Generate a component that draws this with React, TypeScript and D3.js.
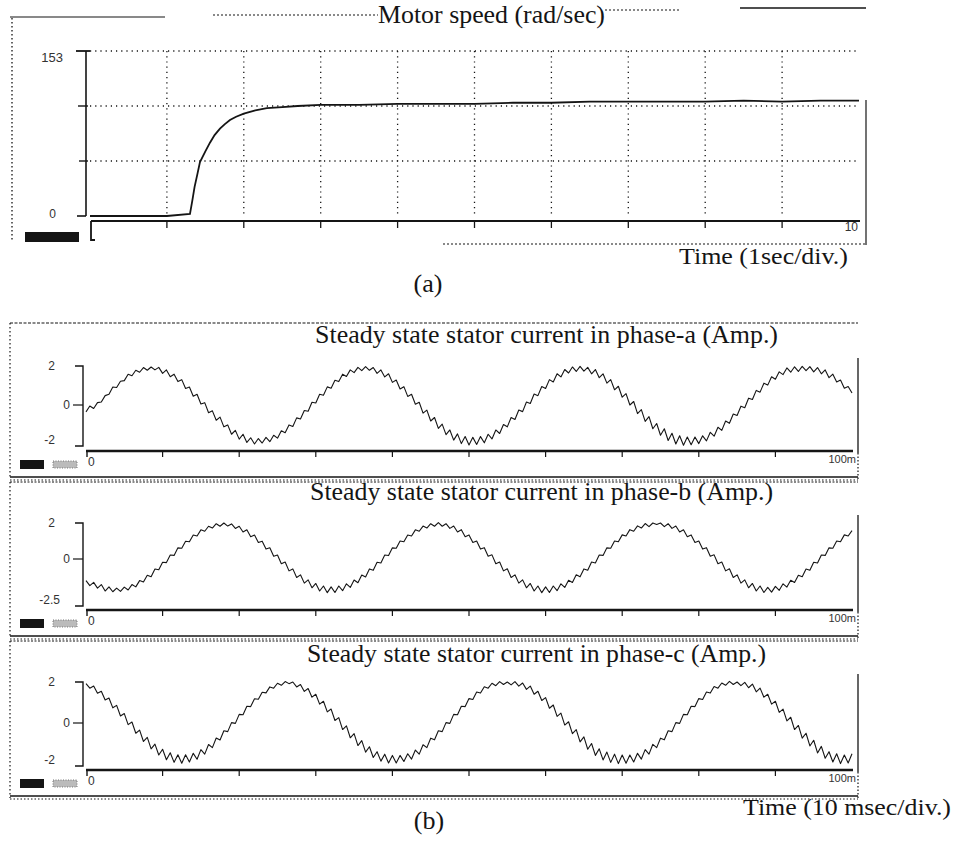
import React from 'react';
import * as d3 from 'd3';

const W = 956;
const H = 843;

// (a) motor speed, rad/sec against time in seconds
const speedTime = [0, 0.5, 1.0, 1.3, 1.33, 1.36, 1.4, 1.43, 1.5, 1.56, 1.62, 1.69, 1.75, 1.82, 1.9, 2.0, 2.15, 2.3, 2.5, 2.7, 3.0, 3.5, 4.0, 4.5, 5.0, 5.5, 6.0, 6.5, 7.0, 7.5, 8.0, 8.5, 9.0, 9.5, 10];
const speedValue = [0, 0, 0, 2, 14, 27, 40, 50, 60, 68, 75, 81, 85, 89, 92, 95, 98, 100, 101, 102, 103, 103, 104, 104, 104, 105, 105, 106, 106, 106, 106, 107, 106, 107, 107];
const speedGrid = [51, 102, 153];
const speedLabels = ['153', '0'];

// (b) steady state stator currents (Amp.), one reading every 0.5 ms over 100 ms
const SAMPLE_MS = 0.5;
const phaseA = [
  -0.35, -0.05, -0.18, 0.12, 0.15, 0.48, 0.55, 0.92, 0.90, 1.22,
  1.25, 1.58, 1.50, 1.78, 1.68, 1.92, 1.78, 1.95, 1.80, 1.93,
  1.62, 1.80, 1.45, 1.58, 1.20, 1.30, 0.85, 0.92, 0.45, 0.55,
  0.05, 0.12, -0.40, -0.30, -0.78, -0.62, -1.12, -1.02, -1.50, -1.30,
  -1.75, -1.50, -1.92, -1.68, -2.00, -1.72, -1.95, -1.66, -1.88, -1.55,
  -1.70, -1.32, -1.42, -1.02, -1.10, -0.66, -0.72, -0.28, -0.32, 0.14,
  0.10, 0.55, 0.50, 0.93, 0.86, 1.27, 1.20, 1.58, 1.46, 1.80,
  1.66, 1.93, 1.76, 1.97, 1.78, 1.92, 1.62, 1.80, 1.44, 1.60,
  1.16, 1.28, 0.82, 0.94, 0.44, 0.55, 0.04, 0.14, -0.42, -0.26,
  -0.82, -0.64, -1.20, -0.98, -1.52, -1.28, -1.80, -1.48, -1.98, -1.62,
  -2.05, -1.66, -2.02, -1.62, -1.94, -1.50, -1.74, -1.28, -1.46, -1.00,
  -1.12, -0.64, -0.74, -0.26, -0.34, 0.15, 0.08, 0.56, 0.48, 0.95,
  0.85, 1.30, 1.18, 1.60, 1.44, 1.82, 1.64, 1.95, 1.72, 1.98,
  1.74, 1.93, 1.60, 1.82, 1.40, 1.60, 1.12, 1.30, 0.78, 0.96,
  0.40, 0.58, 0.00, 0.18, -0.44, -0.24, -0.84, -0.60, -1.22, -0.95,
  -1.55, -1.22, -1.82, -1.45, -2.00, -1.58, -2.06, -1.64, -2.04, -1.64,
  -1.98, -1.58, -1.84, -1.40, -1.60, -1.14, -1.30, -0.82, -0.94, -0.46,
  -0.54, -0.06, -0.14, 0.35, 0.28, 0.75, 0.66, 1.12, 1.02, 1.45,
  1.32, 1.70, 1.56, 1.90, 1.68, 1.96, 1.72, 1.98, 1.76, 1.97,
  1.70, 1.92, 1.60, 1.80, 1.40, 1.58, 1.18, 1.28, 0.86, 0.95,
  0.62,
];
const phaseB = [
  -1.20, -1.48, -1.30, -1.62, -1.42, -1.78, -1.55, -1.82, -1.62, -1.80,
  -1.56, -1.72, -1.42, -1.55, -1.20, -1.28, -0.90, -0.98, -0.56, -0.60,
  -0.18, -0.20, 0.22, 0.20, 0.62, 0.60, 0.99, 0.96, 1.33, 1.28,
  1.62, 1.54, 1.82, 1.72, 1.96, 1.82, 2.00, 1.83, 1.95, 1.70,
  1.82, 1.50, 1.62, 1.24, 1.33, 0.92, 0.99, 0.55, 0.62, 0.15,
  0.22, -0.26, -0.17, -0.66, -0.55, -1.03, -0.88, -1.34, -1.16, -1.60,
  -1.36, -1.78, -1.50, -1.87, -1.55, -1.86, -1.50, -1.76, -1.38, -1.58,
  -1.17, -1.32, -0.89, -1.00, -0.55, -0.63, -0.18, -0.22, 0.22, 0.19,
  0.62, 0.60, 1.00, 0.96, 1.33, 1.28, 1.62, 1.54, 1.83, 1.72,
  1.96, 1.82, 2.02, 1.82, 1.96, 1.70, 1.83, 1.50, 1.63, 1.24,
  1.34, 0.92, 1.00, 0.55, 0.63, 0.15, 0.23, -0.26, -0.17, -0.66,
  -0.54, -1.03, -0.88, -1.34, -1.16, -1.60, -1.36, -1.78, -1.50, -1.87,
  -1.55, -1.86, -1.50, -1.76, -1.38, -1.58, -1.18, -1.30, -0.88, -0.99,
  -0.55, -0.62, -0.17, -0.22, 0.22, 0.20, 0.62, 0.60, 1.00, 0.96,
  1.34, 1.28, 1.63, 1.54, 1.84, 1.72, 1.97, 1.80, 2.00, 1.92,
  2.00, 1.80, 1.96, 1.70, 1.83, 1.50, 1.62, 1.24, 1.34, 0.92,
  1.00, 0.55, 0.63, 0.15, 0.23, -0.26, -0.17, -0.66, -0.54, -1.03,
  -0.88, -1.34, -1.16, -1.60, -1.36, -1.78, -1.50, -1.86, -1.58, -1.84,
  -1.52, -1.74, -1.38, -1.56, -1.18, -1.30, -0.90, -0.98, -0.56, -0.62,
  -0.18, -0.22, 0.22, 0.20, 0.62, 0.60, 1.00, 0.96, 1.34, 1.28,
  1.58,
];
const phaseC = [
  1.92, 1.70, 1.80, 1.45, 1.55, 1.12, 1.22, 0.74, 0.86, 0.34,
  0.46, -0.08, 0.05, -0.50, -0.35, -0.90, -0.70, -1.26, -1.03, -1.56,
  -1.28, -1.79, -1.45, -1.92, -1.55, -1.96, -1.55, -1.90, -1.48, -1.77,
  -1.30, -1.52, -1.05, -1.20, -0.73, -0.83, -0.38, -0.42, 0.02, -0.02,
  0.42, 0.40, 0.82, 0.80, 1.18, 1.16, 1.50, 1.47, 1.76, 1.70,
  1.94, 1.84, 2.02, 1.92, 2.00, 1.76, 1.88, 1.54, 1.68, 1.26,
  1.40, 0.92, 1.06, 0.54, 0.68, 0.12, 0.26, -0.32, -0.14, -0.72,
  -0.52, -1.10, -0.86, -1.42, -1.16, -1.68, -1.40, -1.86, -1.52, -1.95,
  -1.58, -1.95, -1.58, -1.88, -1.50, -1.76, -1.32, -1.52, -1.06, -1.20,
  -0.74, -0.82, -0.38, -0.42, 0.02, -0.02, 0.42, 0.40, 0.82, 0.80,
  1.19, 1.15, 1.51, 1.46, 1.77, 1.70, 1.94, 1.82, 2.02, 1.88,
  2.00, 1.86, 2.02, 1.80, 1.95, 1.64, 1.80, 1.40, 1.55, 1.10,
  1.24, 0.72, 0.88, 0.32, 0.48, -0.10, 0.06, -0.52, -0.32, -0.92,
  -0.68, -1.28, -1.00, -1.58, -1.26, -1.80, -1.42, -1.92, -1.52, -1.98,
  -1.56, -1.96, -1.56, -1.90, -1.48, -1.76, -1.30, -1.52, -1.04, -1.20,
  -0.74, -0.82, -0.38, -0.42, 0.02, -0.02, 0.42, 0.40, 0.82, 0.80,
  1.19, 1.15, 1.51, 1.46, 1.78, 1.70, 1.95, 1.84, 2.03, 1.88,
  2.00, 1.82, 1.98, 1.72, 1.90, 1.52, 1.70, 1.26, 1.40, 0.92,
  1.06, 0.52, 0.68, 0.10, 0.28, -0.32, -0.12, -0.74, -0.50, -1.12,
  -0.84, -1.46, -1.14, -1.72, -1.40, -1.90, -1.50, -1.98, -1.56, -1.95,
  -1.50,
];
const phaseTitles = [
  'Steady state stator current in phase-a (Amp.)',
  'Steady state stator current in phase-b (Amp.)',
  'Steady state stator current in phase-c (Amp.)',
];
const phaseTicks = [[2, 0, -2], [2, 0, -2.5], [2, 0, -2]];
const phaseTickLabels = [['2', '0', '-2'], ['2', '0', '-2.5'], ['2', '0', '-2']];
const timeTicksMs = [0, 10, 20, 30, 40, 50, 60, 70, 80, 90, 100];

const serif = '"Liberation Serif", "Times New Roman", serif';
const sans = '"Liberation Sans", Arial, sans-serif';
const ink = '#151515';

// pixel layout of the three stacked traces in (b)
const panes = [
  { top: 323, bottom: 479, yTop: 366, yBot: 444, axisY: 451, titleY: 343, titleX: 315, titleW: 463 },
  { top: 482, bottom: 638, yTop: 523, yBot: 604, axisY: 610, titleY: 500, titleX: 310, titleW: 463 },
  { top: 641, bottom: 798, yTop: 682, yBot: 764, axisY: 770, titleY: 662, titleX: 307, titleW: 459 },
];

function SpeedPanel() {
  const x = d3.scaleLinear().domain([0, 10]).range([90, 859]);
  const y = d3.scaleLinear().domain([0, 153]).range([216, 51]);
  const line = d3.line<number>()
    .x((_, i) => x(speedTime[i]))
    .y((d) => y(d));
  const divs = d3.range(1, 10);

  return (
    <g>
      {/* scanned frame */}
      <line x1={10} y1={17} x2={165} y2={17} stroke={ink} strokeWidth={1.2} />
      <line x1={213} y1={15} x2={378} y2={15} stroke={ink} strokeWidth={1.2} strokeDasharray="2 2" />
      <line x1={605} y1={10} x2={680} y2={10} stroke={ink} strokeWidth={1.2} strokeDasharray="2 2" />
      <line x1={740} y1={8} x2={866} y2={8} stroke={ink} strokeWidth={1.4} />
      <line x1={12} y1={18} x2={12} y2={240} stroke={ink} strokeWidth={1.3} strokeDasharray="1.5 2.5" />
      <line x1={866} y1={100} x2={866} y2={245} stroke={ink} strokeWidth={1.2} />
      <line x1={443} y1={244} x2={866} y2={244} stroke={ink} strokeWidth={1.2} strokeDasharray="2 2" />

      {/* grid */}
      {divs.map((d) => (
        <line key={'v' + d} x1={x(d)} x2={x(d)} y1={y(153)} y2={y(0)} stroke={ink} strokeWidth={1.3} strokeDasharray="1.2 4" />
      ))}
      {speedGrid.map((g) => (
        <line key={'h' + g} x1={x(0)} x2={x(10)} y1={y(g)} y2={y(g)} stroke={ink} strokeWidth={1.3} strokeDasharray="1.2 4" />
      ))}

      {/* y axis */}
      <line x1={86} x2={86} y1={y(153)} y2={y(0)} stroke={ink} strokeWidth={1.6} />
      <line x1={76} x2={90} y1={y(153)} y2={y(153)} stroke={ink} strokeWidth={1.8} />
      <line x1={78} x2={88} y1={y(102)} y2={y(102)} stroke={ink} strokeWidth={1.4} />
      <line x1={79} x2={88} y1={y(51)} y2={y(51)} stroke={ink} strokeWidth={1.4} />
      <line x1={77} x2={86} y1={y(0)} y2={y(0)} stroke={ink} strokeWidth={1.6} />
      <text x={63} y={y(153) + 11} textAnchor="end" fontFamily={sans} fontSize={13} fill="#333">{speedLabels[0]}</text>
      <text x={56} y={y(0) + 2} textAnchor="end" fontFamily={sans} fontSize={12} fill="#333">{speedLabels[1]}</text>

      {/* x axis */}
      <line x1={91} x2={860} y1={221} y2={221} stroke={ink} strokeWidth={2.2} />
      <path d="M91,221 V240 H95" fill="none" stroke={ink} strokeWidth={1.8} />
      {divs.map((d) => (
        <line key={'t' + d} x1={x(d)} x2={x(d)} y1={221} y2={228} stroke={ink} strokeWidth={1.3} />
      ))}
      <text x={858} y={231} textAnchor="end" fontFamily={sans} fontSize={12} fill="#333">10</text>
      <rect x={25} y={232} width={54} height={10} fill={ink} />

      <path d={line(speedValue) ?? ''} fill="none" stroke={ink} strokeWidth={1.8} />

      <text x={378} y={23} fontFamily={serif} fontSize={25} fill={ink} textLength={227} lengthAdjust="spacingAndGlyphs">Motor speed (rad/sec)</text>
      <text x={679} y={264} fontFamily={serif} fontSize={24} fill={ink} textLength={169} lengthAdjust="spacingAndGlyphs">Time (1sec/div.)</text>
      <text x={428} y={292} fontFamily={serif} fontSize={26} fill={ink} textAnchor="middle">(a)</text>
    </g>
  );
}

function CurrentPane({ idx, data }: { idx: number; data: number[] }) {
  const p = panes[idx];
  const ticks = phaseTicks[idx];
  const x = d3.scaleLinear().domain([0, 100]).range([86, 852]);
  const y = d3.scaleLinear().domain([ticks[2], ticks[0]]).range([p.yBot, p.yTop]);
  const line = d3.line<number>()
    .x((_, i) => x(i * SAMPLE_MS))
    .y((d) => y(d));

  return (
    <g>
      {/* frame: double rule on top and bottom, dotted sides */}
      <line x1={10} x2={858} y1={p.top} y2={p.top} stroke={ink} strokeWidth={1.2} strokeDasharray={idx === 0 ? '3 1.5' : '2 1.5'} />
      <line x1={10} x2={858} y1={p.bottom - 2} y2={p.bottom - 2} stroke={ink} strokeWidth={1.3} />
      <line x1={10} x2={858} y1={p.bottom + 1} y2={p.bottom + 1} stroke={ink} strokeWidth={1} strokeDasharray="1.5 2" />
      <line x1={10} x2={10} y1={p.top} y2={p.bottom} stroke={ink} strokeWidth={1.2} strokeDasharray="1.5 2.5" />
      <line x1={858} x2={858} y1={p.yTop - 8} y2={p.axisY + 2} stroke={ink} strokeWidth={1.3} />
      <line x1={858} x2={858} y1={p.axisY + 2} y2={p.bottom} stroke={ink} strokeWidth={1.2} strokeDasharray="1.5 2" />

      <text x={p.titleX} y={p.titleY} fontFamily={serif} fontSize={25} fill={ink} textLength={p.titleW} lengthAdjust="spacingAndGlyphs">{phaseTitles[idx]}</text>

      {/* y axis with bracket ends */}
      <path d={`M75,${p.yTop} H83 V${p.yBot + 2} H75`} fill="none" stroke={ink} strokeWidth={1.4} />
      <line x1={73} x2={83} y1={y(0)} y2={y(0)} stroke={ink} strokeWidth={1.2} />
      <text x={55} y={y(ticks[0]) + 4} textAnchor="end" fontFamily={sans} fontSize={12} fill="#333">{phaseTickLabels[idx][0]}</text>
      <text x={70} y={y(0) + 4} textAnchor="end" fontFamily={sans} fontSize={12} fill="#333">{phaseTickLabels[idx][1]}</text>
      <text x={idx === 1 ? 60 : 55} y={y(ticks[2])} textAnchor="end" fontFamily={sans} fontSize={12} fill="#333">{phaseTickLabels[idx][2]}</text>

      {/* time axis */}
      <line x1={86} x2={853} y1={p.axisY} y2={p.axisY} stroke={ink} strokeWidth={2.4} />
      <line x1={87} x2={87} y1={p.axisY} y2={p.axisY + 6} stroke={ink} strokeWidth={1.4} />
      {timeTicksMs.slice(1, -1).map((t) => (
        <line key={t} x1={x(t)} x2={x(t)} y1={p.axisY} y2={p.axisY + 6} stroke={ink} strokeWidth={1.2} />
      ))}
      <text x={88} y={p.axisY + 15} fontFamily={sans} fontSize={12} fill="#333">0</text>
      <text x={856} y={p.axisY + 12} textAnchor="end" fontFamily={sans} fontSize={11} fill="#333">100m</text>
      <rect x={20} y={p.axisY + 9} width={24} height={9} fill={ink} />
      <rect x={53} y={p.axisY + 10} width={24} height={7} fill="#bbb" stroke="#777" strokeWidth={1} strokeDasharray="1 1.5" />

      <path d={line(data) ?? ''} fill="none" stroke={ink} strokeWidth={1.1} strokeLinejoin="round" />
    </g>
  );
}

export default function App() {
  return (
    <svg width={W} height={H} viewBox={`0 0 ${W} ${H}`} style={{ position: 'absolute', left: 0, top: 0, background: '#fff' }}>
      <rect width={W} height={H} fill="#fff" />
      <SpeedPanel />
      <CurrentPane idx={0} data={phaseA} />
      <CurrentPane idx={1} data={phaseB} />
      <CurrentPane idx={2} data={phaseC} />
      <text x={743} y={815} fontFamily={serif} fontSize={24} fill={ink} textLength={208} lengthAdjust="spacingAndGlyphs">Time (10 msec/div.)</text>
      <text x={429} y={829} fontFamily={serif} fontSize={26} fill={ink} textAnchor="middle">(b)</text>
    </svg>
  );
}
